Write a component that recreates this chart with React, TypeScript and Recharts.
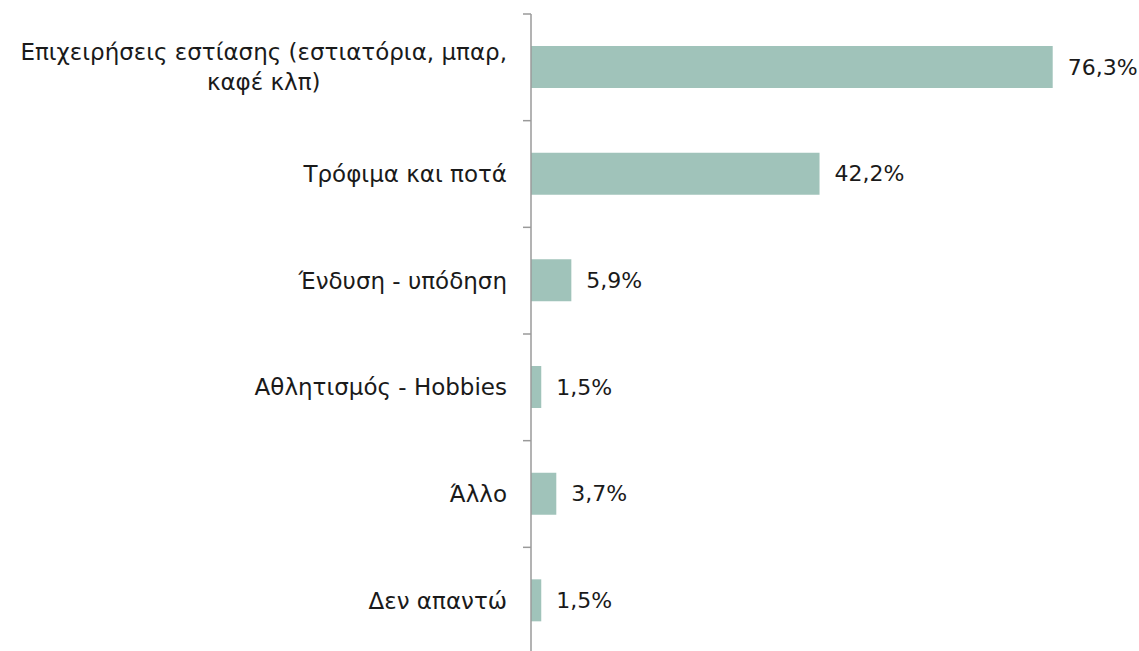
import React from "react";
import { BarChart, Bar, XAxis, YAxis, LabelList } from "recharts";

const categories: string[] = [
  "Επιχειρήσεις εστίασης (εστιατόρια, μπαρ,\nκαφέ κλπ)",
  "Τρόφιμα και ποτά",
  "Ένδυση - υπόδηση",
  "Αθλητισμός - Hobbies",
  "Άλλο",
  "Δεν απαντώ",
];
const values: number[] = [76.3, 42.2, 5.9, 1.5, 3.7, 1.5];

const data = categories.map((c, i) => ({ name: c, value: values[i] }));

const FONT = "'DejaVu Sans', sans-serif";
const FONT_SIZE = 23;
const VALUE_FONT_SIZE = 22;
const TICK_MARGIN = 24;
const AXIS_COLOR = "#9a9a9a";

let ctx: CanvasRenderingContext2D | null = null;
const measure = (s: string): number => {
  if (typeof document === "undefined") return s.length * FONT_SIZE * 0.6;
  if (!ctx) ctx = document.createElement("canvas").getContext("2d");
  if (!ctx) return s.length * FONT_SIZE * 0.6;
  ctx.font = `${FONT_SIZE}px 'DejaVu Sans'`;
  return ctx.measureText(s).width;
};

const CategoryTick = (props: any) => {
  const { x, y, payload, index, visibleTicksCount } = props;
  const lines: string[] = String(payload.value).split("\n");
  const lh = 30;
  const start = -((lines.length - 1) * lh) / 2;
  const ax = x + TICK_MARGIN;
  const half = payload.offset || 0;
  const isLast = index === visibleTicksCount - 1;
  const blockW = lines.length > 1 ? Math.max(...lines.map(measure)) : 0;
  return (
    <g>
      <line x1={ax - 8} x2={ax} y1={y - half} y2={y - half} stroke={AXIS_COLOR} strokeWidth={1.5} />
      {isLast && (
        <line x1={ax - 8} x2={ax} y1={y + half} y2={y + half} stroke={AXIS_COLOR} strokeWidth={1.5} />
      )}
      {lines.map((l, i) => (
        <text
          key={i}
          x={lines.length > 1 ? x - blockW / 2 : x}
          y={y + start + i * lh}
          dy="0.35em"
          textAnchor={lines.length > 1 ? "middle" : "end"}
          fill="#1a1a1a"
          fontFamily={FONT}
          fontSize={FONT_SIZE}
        >
          {l}
        </text>
      ))}
    </g>
  );
};

const fmt = (v: any) => `${Number(v).toFixed(1).replace(".", ",")}%`;

export default function App() {
  return (
    <div style={{ position: "absolute", left: 0, top: 0, width: 1139, height: 651, overflow: "hidden", background: "#fff" }}>
      <BarChart
        width={1139}
        height={660}
        data={data}
        layout="vertical"
        margin={{ top: 14, right: 61, bottom: 6, left: 0 }}
        barSize={42}
      >
        <XAxis type="number" domain={[0, 80]} hide />
        <YAxis
          type="category"
          dataKey="name"
          width={531}
          axisLine={{ stroke: AXIS_COLOR, strokeWidth: 1.5 }}
          tickLine={false}
          tickSize={0}
          tickMargin={TICK_MARGIN}
          tick={<CategoryTick />}
          interval={0}
        />
        <Bar dataKey="value" fill="#a0c3ba" isAnimationActive={false}>
          <LabelList
            dataKey="value"
            position="right"
            offset={15}
            formatter={fmt}
            fill="#1a1a1a"
            fontFamily={FONT}
            fontSize={VALUE_FONT_SIZE}
          />
        </Bar>
      </BarChart>
    </div>
  );
}
